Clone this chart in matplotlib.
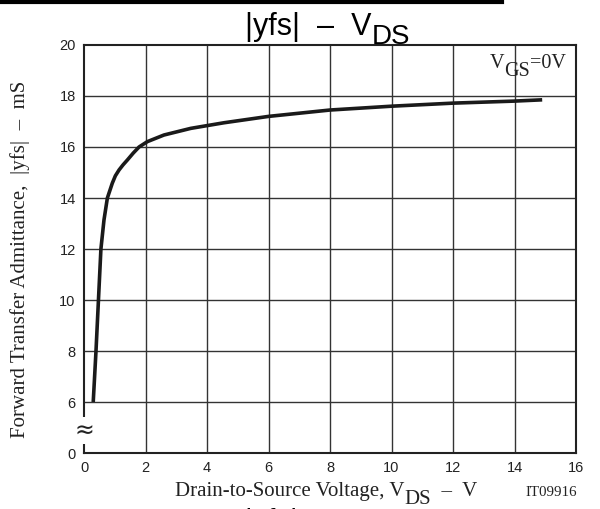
import matplotlib.pyplot as plt
from matplotlib.lines import Line2D

# 读出的曲线数据 (VDS in V, |yfs| in mS)
vds = [0.30, 0.39, 0.47, 0.55, 0.65, 0.76, 0.92, 1.02, 1.14, 1.27, 1.41, 1.6, 1.79, 2.06,
       2.6, 3.47, 4.55, 6, 8, 10, 12, 14, 14.9]
yfs = [6.0, 8.0, 10.0, 12.0, 13.14, 14.0, 14.58, 14.87, 15.1, 15.3, 15.49, 15.76, 16.0,
       16.21, 16.47, 16.73, 16.95, 17.2, 17.45, 17.6, 17.72, 17.8, 17.85]

x_ticks = [0, 2, 4, 6, 8, 10, 12, 14, 16]
y_ticks = [4, 6, 8, 10, 12, 14, 16, 18, 20]       # 4 是断轴后的 "0"
y_tick_labels = ['0', '6', '8', '10', '12', '14', '16', '18', '20']

sans = 'Liberation Sans'
serif = 'Liberation Serif'
ink = '#222222'

fig = plt.figure(figsize=(6.0, 5.09), dpi=100)
ax = fig.add_axes([0.14, 0.110, 0.82, 0.8016])

ax.set_xlim(0, 16)
ax.set_ylim(4, 20)
ax.set_xticks(x_ticks)
ax.set_yticks(y_ticks)
ax.set_yticklabels(y_tick_labels)
ax.tick_params(length=0, pad=6, labelsize=10.5)
for lab in ax.get_xticklabels() + ax.get_yticklabels():
    lab.set_family(sans)
    lab.set_color(ink)

# 网格：竖线到底，横线只画 6~18
for x in x_ticks[1:-1]:
    ax.axvline(x, color='#333333', lw=1.0, zorder=1)
for y in y_ticks[1:-1]:
    ax.axhline(y, color='#333333', lw=1.0, zorder=1)
for s in ax.spines.values():
    s.set_linewidth(1.5)
    s.set_color(ink)

ax.plot(vds, yfs, color='#1a1a1a', lw=2.6, solid_capstyle='butt',
        solid_joinstyle='round', zorder=3)

# 断轴符号
ax.text(0, 4.88, '≈', ha='center', va='center', fontsize=17, family='DejaVu Sans',
        color=ink, zorder=5, clip_on=False,
        bbox=dict(boxstyle='square,pad=0.05', fc='white', ec='none'))

# VGS=0V
t = ax.text(0.825, 0.944, 'V', transform=ax.transAxes, family=serif, fontsize=14.5,
            va='baseline', ha='left', color=ink)
t2 = ax.annotate('GS', xy=(1, 0), xycoords=t, xytext=(0, -6), textcoords='offset points',
                 family=serif, fontsize=14.5, va='bottom', ha='left', color=ink)
ax.annotate('=0V', xy=(1, 0), xycoords=t2, xytext=(0, 6), textcoords='offset points',
            family=serif, fontsize=14.5, va='bottom', ha='left', color=ink)

# 标题
tt = fig.text(0.408, 0.931, '|yfs|  –  V', family=sans, fontsize=22, va='baseline', ha='left')
ax.annotate('DS', xy=(1, 0), xycoords=tt, xytext=(0, -6), textcoords='offset points',
            family=sans, fontsize=20, va='bottom', ha='left', annotation_clip=False)

# y 轴标签
fig.text(0.033, 0.49, 'Forward Transfer Admittance,  |yfs|  –  mS', rotation=90,
         family=serif, fontsize=15, ha='center', va='center', color=ink)

# x 轴标签
xl = fig.text(0.292, 0.026, 'Drain-to-Source Voltage, V', family=serif, fontsize=15,
              va='baseline', ha='left', color=ink)
xs = ax.annotate('DS', xy=(1, 0), xycoords=xl, xytext=(0, -6), textcoords='offset points',
                 family=serif, fontsize=15, va='bottom', ha='left', color=ink,
                 annotation_clip=False)
ax.annotate('  –  V', xy=(1, 0), xycoords=xs, xytext=(0, 6), textcoords='offset points',
            family=serif, fontsize=15, va='bottom', ha='left', color=ink,
            annotation_clip=False)
fig.text(0.876, 0.026, 'IT09916', family=serif, fontsize=10.8, va='baseline', ha='left',
         color=ink)

# 顶部黑线与下一张图被截掉的标题
fig.add_artist(Line2D([0, 0.837], [0.997, 0.997], color='black', lw=3,
                      transform=fig.transFigure))
fig.text(0.408, -0.042, '|yfs|  –  I', family=sans, fontsize=21, va='baseline', ha='left')

fig.savefig('out.png', dpi=100)
